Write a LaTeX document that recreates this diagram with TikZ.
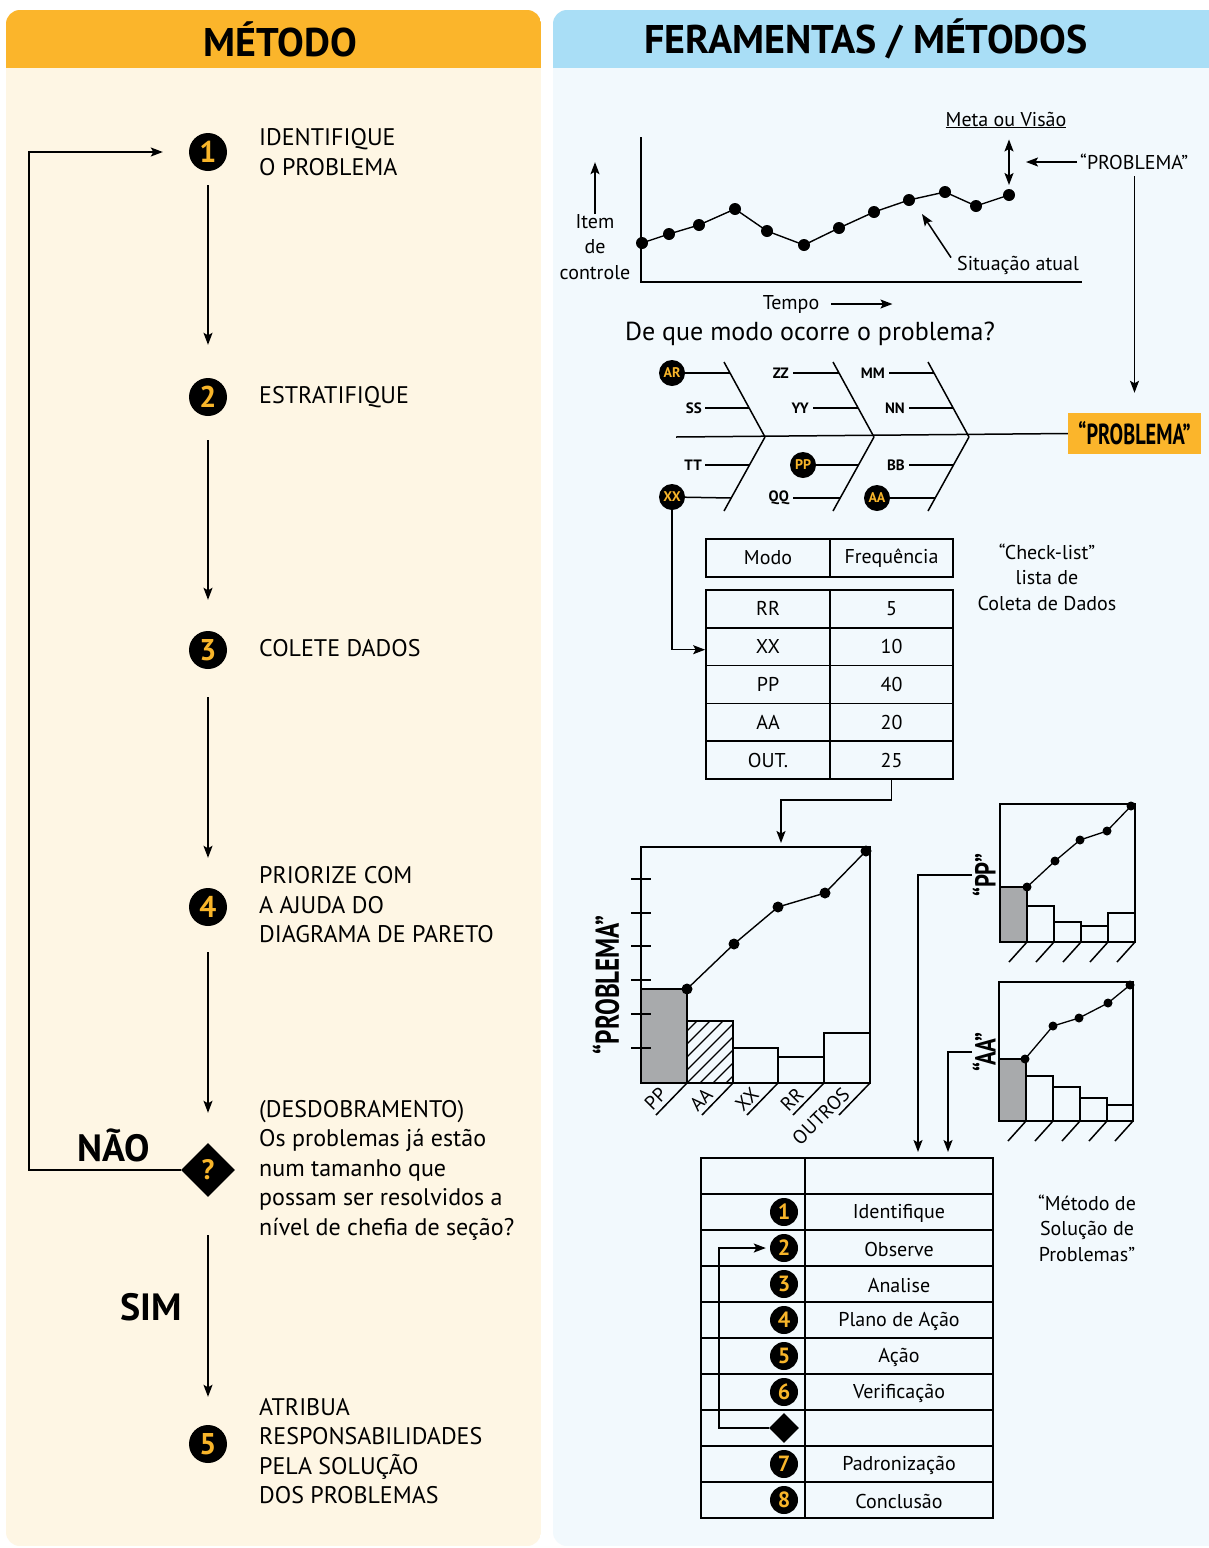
\documentclass[tikz,border=0pt]{standalone}
\usepackage{fontspec}
\usepackage{graphicx}
\setmainfont{PT Sans}
\usetikzlibrary{arrows.meta,shapes.geometric,calc}

\definecolor{hdrorange}{HTML}{FBB52B}
\definecolor{panelcream}{HTML}{FEF6E4}
\definecolor{hdrblue}{HTML}{A9DEF6}
\definecolor{panelblue}{HTML}{F2F9FD}
\definecolor{numyellow}{HTML}{F8B52A}
\definecolor{bargray}{HTML}{A8AAAC}

\newcommand{\condensed}[2][0.72]{\scalebox{#1}[1]{#2}}
\newcommand{\fs}[2]{\fontsize{#1}{#2}\selectfont}

\tikzset{
  tip/.tip={Stealth[length=12pt,width=9pt,inset=2.5pt]},
  flow/.style={line width=1.5pt, -tip},
  dblflow/.style={line width=1.5pt, tip-tip},
  plain/.style={line width=1.5pt},
  stepnum/.style={circle, fill=black, inner sep=0pt, minimum size=38pt,
    text=numyellow, font=\bfseries\fs{30}{30}},
  smallnum/.style={circle, fill=black, inner sep=0pt, minimum size=28pt,
    text=numyellow, font=\bfseries\fs{22}{22}},
  fishtag/.style={circle, fill=black, inner sep=0pt, minimum size=26pt,
    text=numyellow, font=\bfseries\fs{14}{14}},
  fishlbl/.style={inner sep=1pt, anchor=east, font=\bfseries\fs{15}{15}},
  steptext/.style={anchor=west, align=left, inner sep=0pt, font=\fs{24}{29.5}},
  small/.style={align=center, inner sep=0pt, font=\fs{20}{25.5}},
  heading/.style={font=\bfseries\fs{40}{40}},
  answer/.style={font=\bfseries\fs{38}{38}},
  cell/.style={draw, line width=1.7pt, inner sep=0pt, minimum height=37.8pt,
    font=\fs{20}{20}},
  mcell/.style={draw, line width=1.7pt, inner sep=0pt, minimum height=36pt,
    font=\fs{20}{20}},
  celltext/.style={font=\fs{20}{20}, yshift=-1.5pt},
  dot/.style={fill=black},
  barlbl/.style={rotate=45, anchor=south east, inner sep=0.5pt, font=\fs{19.5}{19.5}},
}

\begin{document}
\begin{tikzpicture}[x=1pt,y=-1pt]
\useasboundingbox (0,0) rectangle (1209,1548);
\fill[white] (0,0) rectangle (1209,1548);

% ---------- panels ----------
\begin{scope}
  \clip[rounded corners=14pt] (6,10) rectangle (541,1546);
  \fill[panelcream] (6,10) rectangle (541,1546);
  \fill[hdrorange] (6,10) rectangle (541,68);
\end{scope}
\begin{scope}
  \clip[rounded corners=14pt] (553,10) rectangle (1230,1546);
  \fill[panelblue] (553,10) rectangle (1230,1546);
  \fill[hdrblue] (553,10) rectangle (1230,68);
\end{scope}

\node[heading] (hleft) at (280,39) {MÉTODO};
\node[heading] (hright) at (866,39) {FERAMENTAS / MÉTODOS};

% ---------- method flow ----------
\node[stepnum] (s1) at (208,152) {1};
\node[stepnum] (s2) at (208,397) {2};
\node[stepnum] (s3) at (208,650) {3};
\node[stepnum] (s4) at (208,907) {4};
\node[diamond, fill=black, inner sep=0pt, minimum size=54pt, text=numyellow,
      font=\bfseries\fs{28}{28}] (q) at (208,1170) {?};
\node[stepnum] (s5) at (208,1444) {5};

\node[steptext] (t1) at (259,152) {IDENTIFIQUE\\O PROBLEMA};
\node[steptext] (t2) at (259,397) {ESTRATIFIQUE};
\node[steptext] (t3) at (259,648) {COLETE DADOS};
\node[steptext] (t4) at (259,905) {PRIORIZE COM\\A AJUDA DO\\DIAGRAMA DE PARETO};
\node[steptext] (tq) at (259,1170) {(DESDOBRAMENTO)\\Os problemas já estão\\num tamanho que\\possam ser resolvidos a\\nível de chefia de seção?};
\node[steptext] (t5) at (259,1451) {ATRIBUA\\RESPONSABILIDADES\\PELA SOLUÇÃO\\DOS PROBLEMAS};

\node[answer] (nao) at (114,1145) {NÃO};
\node[answer] (sim) at (151,1307) {SIM};

\draw[flow, shorten <=14pt, shorten >=33pt] (s1) -- (s2);
\draw[flow, shorten <=24pt, shorten >=31pt] (s2) -- (s3);
\draw[flow, shorten <=28pt, shorten >=30pt] (s3) -- (s4);
\draw[flow, shorten <=26pt, shorten >=30pt] (s4) -- (q);
\draw[flow, shorten <=38pt, shorten >=28pt] (q) -- (s5);
\draw[flow, shorten >=26pt] (q.west) -- ++(-152,0) |- (s1.west);

% ---------- run chart ----------
\draw[plain] (641,137) -- (641,282) -- (1082,282);
\draw[line width=1.4pt] (642,243) -- (669,234) -- (699,225) -- (735,209) -- (767,231)
  -- (804,245) -- (839,228) -- (874,212) -- (909,200) -- (945,192) -- (976,206) -- (1009,195);
\foreach \p in {(642,243),(669,234),(699,225),(735,209),(767,231),(804,245),
                (839,228),(874,212),(909,200),(945,192),(976,206)}
  \fill[dot] \p circle[radius=6pt];
\coordinate (rclast) at (1009,195);
\fill[dot] (rclast) circle[radius=6pt];

\node[small] (item) at (595,247) {Item\\de\\controle};
\draw[flow] (item.north) -- ++(0,-52);
\node[small] (tempo) at (791,304) {Tempo};
\draw[flow] ([xshift=12pt]tempo.east) -- ++(61,0);
\node[font=\fs{26}{26}, inner sep=0pt] (question) at (810,334) {De que modo ocorre o problema?};

\node[small, anchor=west] (atual) at (957,265) {Situação atual};
\coordinate (atualtip) at (922,214);
\draw[flow] ([shift={(-6pt,-2pt)}]atual.north west) -- (atualtip);

\node[small] (meta) at (1006,120) {\underline{Meta ou Visão}};
\draw[dblflow, shorten <=11pt, shorten >=10pt] (rclast |- meta.south) -- (rclast);

\node[small, anchor=west] (plabel) at (1080,162) {“PROBLEMA”};
\draw[flow, shorten <=3pt, shorten >=17pt] (plabel.west) -- (plabel.west -| rclast);

% ---------- fishbone ----------
\node[fill=hdrorange, minimum width=133pt, minimum height=41pt, inner sep=0pt,
      font=\bfseries\fs{29}{29}] (pbox) at (1134.5,433.5) {\condensed[0.7]{“PROBLEMA”}};
\draw[flow, shorten <=6pt, shorten >=20pt] (plabel.south -| pbox.north) -- (pbox.north);

\coordinate (v1) at (765,437);
\coordinate (v2) at (874,437);
\coordinate (v3) at (969,437);
\draw[plain] (676,437) -- (pbox.west);
\foreach \v in {v1,v2,v3} {
  \draw[plain] (\v) -- ++(-41,-75);
  \draw[plain] (\v) -- ++(-41,74);
}

% branch end points on the bones
\coordinate (b1a) at (730,373);   \coordinate (b1b) at (749,408);
\coordinate (b1c) at (749.5,465); \coordinate (b1d) at (731,498);
\coordinate (b2a) at (839,373);   \coordinate (b2b) at (858,408);
\coordinate (b2c) at (858.5,465); \coordinate (b2d) at (840,498);
\coordinate (b3a) at (934,373);   \coordinate (b3b) at (953,408);
\coordinate (b3c) at (953.5,465); \coordinate (b3d) at (935,498);

\node[fishtag] (ar) at (672,373) {AR};
\node[fishlbl] (ss) at (703,408) {SS};
\node[fishlbl] (tt) at (703,465) {TT};
\node[fishtag] (xx) at (672,497) {XX};
\node[fishlbl] (zz) at (790,373) {ZZ};
\node[fishlbl] (yy) at (810,408) {YY};
\node[fishtag] (pp) at (803,465) {PP};
\node[fishlbl] (qq) at (790,498) {QQ};
\node[fishlbl] (mm) at (886,373) {MM};
\node[fishlbl] (nn) at (906,408) {NN};
\node[fishlbl] (bb) at (906,465) {BB};
\node[fishtag] (aa) at (877,498) {AA};

\draw[plain] (ar) -- (b1a);
\draw[plain] ([xshift=2pt]ss.east) -- (b1b);
\draw[plain] ([xshift=2pt]tt.east) -- (b1c);
\draw[plain] (xx) -- (b1d);
\draw[plain] ([xshift=3pt]zz.east) -- (b2a);
\draw[plain] ([xshift=3pt]yy.east) -- (b2b);
\draw[plain] (pp) -- (b2c);
\draw[plain] ([xshift=3pt]qq.east) -- (b2d);
\draw[plain] ([xshift=3pt]mm.east) -- (b3a);
\draw[plain] ([xshift=3pt]nn.east) -- (b3b);
\draw[plain] ([xshift=3pt]bb.east) -- (b3c);
\draw[plain] (aa) -- (b3d);

% ---------- check list ----------
\node[cell, minimum width=124pt] (hmodo) at (768,558) {Modo};
\node[cell, minimum width=123pt] (hfreq) at (891.5,558) {Frequência};
\node[cell, minimum width=124pt] (mRR)  at (768,608.9) {RR};
\node[cell, minimum width=123pt] (fRR)  at (891.5,608.9) {5};
\node[cell, minimum width=124pt] (mXX)  at (768,646.7) {XX};
\node[cell, minimum width=123pt] (fXX)  at (891.5,646.7) {10};
\node[cell, minimum width=124pt] (mPP)  at (768,684.5) {PP};
\node[cell, minimum width=123pt] (fPP)  at (891.5,684.5) {40};
\node[cell, minimum width=124pt] (mAA)  at (768,722.3) {AA};
\node[cell, minimum width=123pt] (fAA)  at (891.5,722.3) {20};
\node[cell, minimum width=124pt] (mOUT) at (768,760.1) {OUT.};
\node[cell, minimum width=123pt] (fOUT) at (891.5,760.1) {25};

\node[small] (checklist) at (1047,577) {“Check-list”\\lista de\\Coleta de Dados};

\draw[flow] (xx.south) |- ([yshift=-3pt]mXX.west);

% ---------- main Pareto chart ----------
\coordinate (ptop) at (781,847);
\draw[flow, shorten >=4pt] (fOUT.south) -- ++(0,20) -| (ptop);

\fill[bargray] (641,989) rectangle (687,1083);
\begin{scope}
  \clip (687,1021) rectangle (733,1083);
  \foreach \k in {-65,-52,...,52}
    \draw[line width=1.1pt] (687+\k,1083) -- ++(70,-70);
\end{scope}
\draw[plain] (641,989) rectangle (687,1083);
\draw[plain] (687,1021) rectangle (733,1083);
\draw[plain] (733,1048) rectangle (778,1083);
\draw[plain] (778,1057) rectangle (824,1083);
\draw[plain] (824,1033) rectangle (870,1083);
\draw[plain] (641,847) rectangle (870,1083);
\foreach \ty in {879,913,946,980,1014,1048}
  \draw[plain] (631,\ty) -- (651,\ty);
\draw[line width=1.4pt] (687,989) -- (734,944) -- (778,907) -- (825,893) -- (866,851);
\foreach \p in {(687,989),(734,944),(778,907),(825,893),(866,851)}
  \fill[dot] \p circle[radius=5.5pt];
\foreach \xr in {687,733,778,824,870}
  \draw[plain] (\xr,1083) -- ++(-31,32);
\foreach \lab/\xl in {PP/641,AA/687,XX/733,RR/778,OUTROS/824}
  \node[barlbl] at (\xl+28,1096) {\lab};
\node[rotate=90, inner sep=0pt, font=\bfseries\fs{33}{33}] (pylabel) at (606,985)
  {\condensed[0.76]{“PROBLEMA”}};

% ---------- PP breakdown ----------
\fill[bargray] (1000,887) rectangle (1027,942);
\draw[plain] (1000,887) rectangle (1027,942);
\draw[plain] (1027,906) rectangle (1054,942);
\draw[plain] (1054,922) rectangle (1081,942);
\draw[plain] (1081,926) rectangle (1108,942);
\draw[plain] (1108,913) rectangle (1135,942);
\draw[plain] (1000,804) rectangle (1135,942);
\draw[line width=1.3pt] (1027,887) -- (1055,861) -- (1080,840) -- (1107,831) -- (1131,806);
\foreach \p in {(1027,887),(1055,861),(1080,840),(1107,831),(1131,806)}
  \fill[dot] \p circle[radius=4.5pt];
\foreach \xr in {1027,1054,1081,1108,1135}
  \draw[plain] (\xr,942) -- ++(-18,20);
\node[rotate=90, inner sep=0pt, font=\bfseries\fs{29}{29}] (pplbl) at (984,875)
  {\condensed[0.78]{“PP”}};

% ---------- AA breakdown ----------
\fill[bargray] (999,1059) rectangle (1026,1121);
\draw[plain] (999,1059) rectangle (1026,1121);
\draw[plain] (1026,1076) rectangle (1053,1121);
\draw[plain] (1053,1087) rectangle (1080,1121);
\draw[plain] (1080,1098) rectangle (1107,1121);
\draw[plain] (1107,1105) rectangle (1133,1121);
\draw[plain] (999,982) rectangle (1133,1121);
\draw[line width=1.3pt] (1025,1059) -- (1053,1026) -- (1079,1018) -- (1108,1003) -- (1130,985);
\foreach \p in {(1025,1059),(1053,1026),(1079,1018),(1108,1003),(1130,985)}
  \fill[dot] \p circle[radius=4.5pt];
\foreach \xr in {1026,1053,1080,1107,1133}
  \draw[plain] (\xr,1121) -- ++(-18,20);
\node[rotate=90, inner sep=0pt, font=\bfseries\fs{29}{29}] (aalbl) at (984,1052)
  {\condensed[0.78]{“AA”}};

% ---------- solution method table ----------
\foreach \i/\yc in {0/1176,1/1212,2/1248,3/1284,4/1320,5/1356,6/1392,7/1428,8/1464,9/1500} {
  \node[mcell, minimum width=104pt] (L\i) at (753,\yc) {};
  \node[mcell, minimum width=188pt] (R\i) at (899,\yc) {};
}
\node[celltext] at (R1) {Identifique};
\node[celltext] at (R2) {Observe};
\node[celltext] at (R3) {Analise};
\node[celltext] at (R4) {Plano de Ação};
\node[celltext] at (R5) {Ação};
\node[celltext] at (R6) {Verificação};
\node[celltext] at (R8) {Padronização};
\node[celltext] at (R9) {Conclusão};

\node[smallnum] (n1) at (784,1212) {1};
\node[smallnum] (n2) at (784,1248) {2};
\node[smallnum] (n3) at (784,1284) {3};
\node[smallnum] (n4) at (784,1320) {4};
\node[smallnum] (n5) at (784,1356) {5};
\node[smallnum] (n6) at (784,1392) {6};
\node[diamond, fill=black, inner sep=0pt, minimum size=30pt] (dm) at (784,1428) {};
\node[smallnum] (n7) at (784,1464) {7};
\node[smallnum] (n8) at (784,1500) {8};
\draw[flow, shorten >=4pt] (dm.west) -- ++(-50,0) |- (n2.west);

\coordinate (tin1) at (918,1158);
\coordinate (tin2) at (948,1158);
\draw[flow, shorten >=6pt] (pplbl.north) -| (tin1);
\draw[flow, shorten >=6pt] (aalbl.north) -| (tin2);

\node[small] (msp) at (1087,1228) {“Método de\\Solução de\\Problemas”};

\end{tikzpicture}
\end{document}
